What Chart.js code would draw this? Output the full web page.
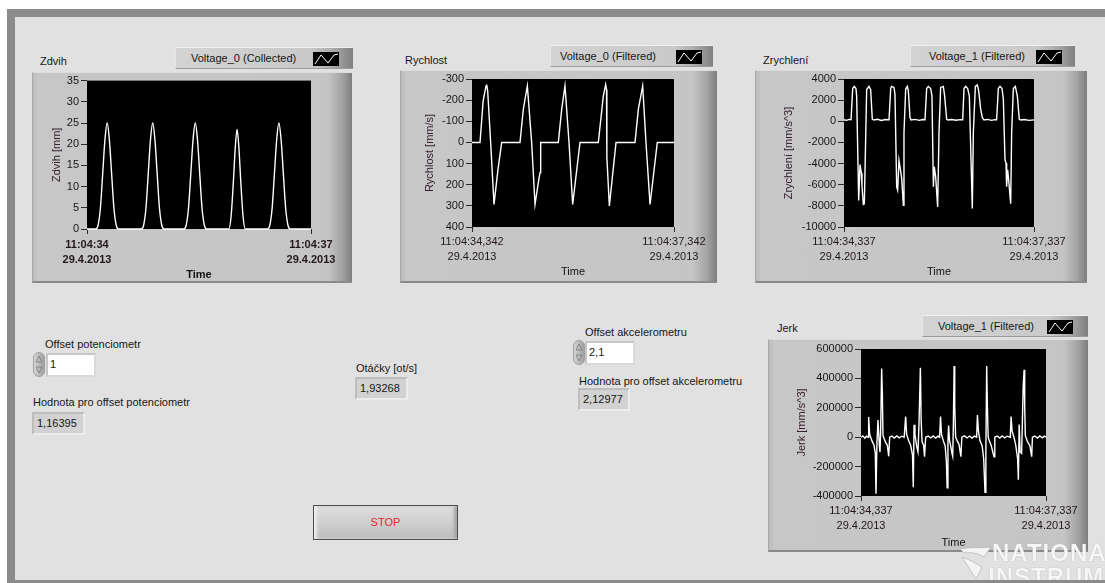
<!DOCTYPE html>
<html lang="cs">
<head>
<meta charset="utf-8">
<title>Měření</title>
<script src="https://cdn.jsdelivr.net/npm/chart.js@4.4.1/dist/chart.umd.min.js"></script>
<style>
  body { margin: 0; width: 1105px; height: 583px; position: relative; overflow: hidden; background: #fff;
         font-family: "Liberation Sans", Arial, sans-serif; font-size: 11px; color: #161616; }
  .abs { position: absolute; }
  #border { left: 7px; top: 9px; width: 1098px; height: 574px; background: #8b8b8b; }
  #inside { left: 15px; top: 17px; width: 1090px; height: 563px; background: #e1e1e1; }
  .frame { box-sizing: border-box; border-top: 1px solid #dcdcdc; border-left: 1px solid #a9a9a9; border-bottom: 2px solid #8a8a8a;
           background: linear-gradient(to right, #bcbcbc 0, #c7c7c7 5px, #c5c5c5 calc(100% - 24px), #a3a3a3 calc(100% - 10px), #7d7d7d 100%); }
  .legend { box-sizing: border-box; height: 22px; border-top: 1px solid #f0f0f0; border-left: 1px solid #e6e6e6; border-bottom: 1px solid #9c9c9c;
            background: linear-gradient(to right, #d3d3d3 0, #c9c9c9 76%, #a9a9a9 89%, #7f7f7f 100%); line-height: 20px; white-space: nowrap; }
  .legend svg { position: absolute; top: 4px; }
  .caption { white-space: nowrap; line-height: 13px; }
  .edit { box-sizing: border-box; height: 24px; background: #fff; border: 2px solid #d9d9d9; border-top-color: #c6c6c6; border-left-color: #c6c6c6;
          line-height: 19px; padding-left: 2px; }
  .ind { box-sizing: border-box; height: 23px; background: #d2d2d2; border: 2px solid #ececec; border-top-color: #bdbdbd; border-left-color: #bdbdbd;
         line-height: 19px; padding-left: 3px; }
  .spin { width: 12px; height: 25px; }
  #stop { left: 313px; top: 505px; width: 145px; height: 35px; box-sizing: border-box; border: 1px solid #4e4e4e;
          background: linear-gradient(to bottom, #dedede 0, #cfcfcf 50%, #bdbdbd 100%);
          box-shadow: inset 3px 0 3px #ececec, inset -3px 0 3px #a5a5a5; color: #e3262e; text-align: center; line-height: 33px; }
  #ni { left: 958px; top: 537px; width: 147px; height: 43px; overflow: hidden; }
  #ni div { position: absolute; font-weight: bold; font-size: 24px; line-height: 24px; color: #f6f6f6; text-shadow: 0 0 1px #9a9a9a; letter-spacing: 1px; }
</style>
</head>
<body>
<div class="abs" id="border"></div>
<div class="abs" id="inside"></div>

<!-- graph frames -->
<div class="abs frame" style="left:32px; top:72px; width:320px; height:211px;"></div>
<div class="abs frame" style="left:400px; top:70px; width:317px; height:213px;"></div>
<div class="abs frame" style="left:755px; top:70px; width:332px; height:213px;"></div>
<div class="abs frame" style="left:768px; top:339px; width:320px; height:213px;"></div>

<canvas id="zdvih-chart" class="abs" width="320" height="211" style="left:32px; top:72px;"></canvas>
<canvas id="rychlost-chart" class="abs" width="317" height="213" style="left:400px; top:70px;"></canvas>
<canvas id="zrychleni-chart" class="abs" width="332" height="213" style="left:755px; top:70px;"></canvas>
<canvas id="jerk-chart" class="abs" width="320" height="213" style="left:768px; top:339px;"></canvas>

<!-- captions and plot legends -->
<div class="abs caption" style="left:40px; top:55px;">Zdvih</div>
<div class="abs legend" style="left:175px; top:47px; width:178px; padding-left:15px;">Voltage_0 (Collected)
  <svg width="26" height="14" style="left:137px;"><rect width="26" height="14" fill="#000"/><polyline points="2,12 8,3 15,11 21,3 25,2" fill="none" stroke="#fff" stroke-width="1"/></svg>
</div>

<div class="abs caption" style="left:405px; top:54px;">Rychlost</div>
<div class="abs legend" style="left:550px; top:45px; width:163px; padding-left:9px;">Voltage_0 (Filtered)
  <svg width="26" height="14" style="left:125px;"><rect width="26" height="14" fill="#000"/><polyline points="2,12 8,3 15,11 21,3 25,2" fill="none" stroke="#fff" stroke-width="1"/></svg>
</div>

<div class="abs caption" style="left:763px; top:54px;">Zrychlení</div>
<div class="abs legend" style="left:910px; top:45px; width:165px; padding-left:18px;">Voltage_1 (Filtered)
  <svg width="26" height="14" style="left:125px;"><rect width="26" height="14" fill="#000"/><polyline points="2,12 8,3 15,11 21,3 25,2" fill="none" stroke="#fff" stroke-width="1"/></svg>
</div>

<div class="abs caption" style="left:777px; top:322px;">Jerk</div>
<div class="abs legend" style="left:922px; top:315px; width:166px; padding-left:15px;">Voltage_1 (Filtered)
  <svg width="26" height="14" style="left:124px;"><rect width="26" height="14" fill="#000"/><polyline points="2,12 8,3 15,11 21,3 25,2" fill="none" stroke="#fff" stroke-width="1"/></svg>
</div>

<!-- controls -->
<div class="abs caption" style="left:45px; top:338px;">Offset potenciometr</div>
<svg class="abs spin" style="left:33px; top:352px;" viewBox="0 0 12 25">
  <defs><linearGradient id="sg" x1="0" x2="1"><stop offset="0" stop-color="#d8d8d8"/><stop offset="1" stop-color="#9c9c9c"/></linearGradient></defs>
  <rect x="0.5" y="0.5" width="11" height="24" rx="5.5" fill="url(#sg)" stroke="#a0a0a0"/>
  <path d="M6 4 L9 10 L3 10 Z M6 21 L9 15 L3 15 Z" fill="none" stroke="#777" stroke-width="0.8"/>
</svg>
<div class="abs edit" style="left:46px; top:353px; width:50px;">1</div>

<div class="abs caption" style="left:33px; top:396px;">Hodnota pro offset potenciometr</div>
<div class="abs ind" style="left:32px; top:412px; width:53px;">1,16395</div>

<div class="abs caption" style="left:356px; top:362px;">Otáčky [ot/s]</div>
<div class="abs ind" style="left:355px; top:377px; width:53px;">1,93268</div>

<div class="abs caption" style="left:585px; top:326px;">Offset akcelerometru</div>
<svg class="abs spin" style="left:573px; top:340px;" viewBox="0 0 12 25">
  <rect x="0.5" y="0.5" width="11" height="24" rx="5.5" fill="url(#sg)" stroke="#a0a0a0"/>
  <path d="M6 4 L9 10 L3 10 Z M6 21 L9 15 L3 15 Z" fill="none" stroke="#777" stroke-width="0.8"/>
</svg>
<div class="abs edit" style="left:585px; top:341px; width:50px;">2,1</div>

<div class="abs caption" style="left:579px; top:375px;">Hodnota pro offset akcelerometru</div>
<div class="abs ind" style="left:578px; top:388px; width:52px;">2,12977</div>

<div class="abs" id="stop">STOP</div>

<div class="abs" id="ni">
  <svg class="abs" style="left:0; top:6px;" width="36" height="37">
    <path d="M2 6 C12 4 22 5 33 4 L26 14 C20 10 12 9 6 10 Z M4 14 L18 36 L24 24 C18 20 10 16 4 14 Z" fill="#f4f4f4" stroke="#a8a8a8" stroke-width="0.6"/>
  </svg>
  <div style="left:34px; top:4px;">NATIONAL</div>
  <div style="left:30px; top:28px;">INSTRUMENTS</div>
</div>
<div class="abs" style="left:7px; top:580px; width:1098px; height:3px; background:#8b8b8b;"></div>

<script>
// Zdvih [mm], time in seconds from 11:04:34
const zdvihTime = [0, 0.12, 0.15, 0.18, 0.21, 0.24, 0.27, 0.30, 0.33, 0.36, 0.39, 0.42,
    0.73, 0.76, 0.79, 0.82, 0.85, 0.88, 0.91, 0.94, 0.97, 1.00, 1.03,
    1.30, 1.33, 1.36, 1.39, 1.42, 1.45, 1.48, 1.51, 1.54, 1.57, 1.60,
    1.90, 1.93, 1.96, 1.985, 2.01, 2.035, 2.06, 2.09, 2.12,
    2.42, 2.45, 2.48, 2.51, 2.54, 2.57, 2.60, 2.63, 2.66, 2.69, 2.72, 3.0];
const zdvihValues = [0, 0, 1, 5, 13, 21, 25, 21, 13, 5, 1, 0,
    0, 1, 5, 13, 21, 25, 21, 13, 5, 1, 0,
    0, 1, 5, 13, 21, 25, 21, 13, 5, 1, 0,
    0, 3, 11, 19, 23.5, 19, 11, 3, 0,
    0, 1, 5, 13, 21, 25, 21, 13, 5, 1, 0, 0];

// Rychlost [mm/s]
const rychlostTime = [0, 0.119, 0.165, 0.208, 0.218, 0.233, 0.277, 0.327, 0.385, 0.441,
    0.713, 0.762, 0.822, 0.886, 0.936, 0.985, 1.01, 1.02,
    1.282, 1.332, 1.381, 1.441, 1.495, 1.604,
    1.876, 1.950, 1.985, 1.998, 2.003, 2.040, 2.139,
    2.421, 2.470, 2.535, 2.584, 2.644, 2.752, 3.0];
const rychlostValues = [0, 0, -195, -267, -274, -243, 0, 293, 130, 0,
    0, -156, -267, 0, 293, 190, 143, 0,
    0, -156, -267, 0, 293, 0,
    0, -219, -274, -250, 70, 300, 0,
    0, -156, -267, 0, 293, 0, 0];

// Zrychlení [mm/s^2]
const zrychleniTime = [0, 0.04, 0.08, 0.111, 0.137, 0.163, 0.189, 0.2, 0.232, 0.253, 0.274, 0.284, 0.305, 0.321, 0.358, 0.395, 0.421, 0.447, 0.47, 0.53, 0.59, 0.65,
    0.711, 0.737, 0.753, 0.789, 0.805, 0.832, 0.847, 0.868, 0.884, 0.911, 0.937, 0.947, 0.974, 1.0, 1.016, 1.042, 1.058, 1.12, 1.19, 1.24,
    1.279, 1.305, 1.332, 1.368, 1.389, 1.411, 1.426, 1.447, 1.479, 1.5, 1.526, 1.568, 1.589, 1.621, 1.642, 1.7, 1.77, 1.83,
    1.874, 1.895, 1.921, 1.953, 1.979, 2.026, 2.042, 2.074, 2.105, 2.126, 2.158, 2.184, 2.211, 2.27, 2.33, 2.38,
    2.41, 2.437, 2.463, 2.495, 2.516, 2.542, 2.558, 2.568, 2.584, 2.6, 2.632, 2.647, 2.674, 2.705, 2.737, 2.768, 2.789, 2.85, 2.92, 3.0];
const zrychleniValues = [150, 90, 180, 150, 3100, 3300, 3100, 2400, -7500, -4100, -4900, -6100, -7850, -7800, 3000, 3300, 3000, 200, 120, 190, 80, 170,
    150, 3100, 3300, 3200, 2570, -6200, -6500, -3700, -4300, -5400, -7950, -1100, 3050, 3300, 2900, 360, 120, 180, 90, 170,
    150, 3100, 3300, 3100, 2400, -6200, -4300, -5250, -8100, -1100, 3200, 3300, 2400, 180, 120, 170, 100, 160,
    150, 3100, 3300, 3100, 2400, -8250, -1100, 3300, 3430, 2900, 1150, 340, 120, 180, 90, 160,
    150, 3100, 3300, 3100, 2100, -3650, -3950, -6200, -4600, -5550, -7800, -1100, 3100, 3300, 2400, 180, 120, 170, 90, 130];

// Jerk [mm/s^3]
const jerkTime = [0, 0.03, 0.06, 0.09, 0.115, 0.124, 0.14, 0.178, 0.211, 0.232, 0.243, 0.259, 0.276, 0.297, 0.308, 0.319, 0.335, 0.346, 0.357, 0.395, 0.427, 0.449, 0.465, 0.5, 0.54, 0.58, 0.62, 0.66, 0.7,
    0.724, 0.74, 0.773, 0.805, 0.835, 0.848, 0.86, 0.875, 0.9, 0.924, 0.94, 0.963, 0.975, 0.99, 1.016, 1.03, 1.049, 1.09, 1.13, 1.17, 1.21, 1.25, 1.275,
    1.29, 1.305, 1.335, 1.365, 1.385, 1.397, 1.41, 1.42, 1.435, 1.455, 1.475, 1.487, 1.497, 1.51, 1.52, 1.535, 1.56, 1.59, 1.62, 1.635, 1.68, 1.72, 1.76, 1.8, 1.84, 1.875,
    1.888, 1.905, 1.93, 1.965, 1.99, 2.011, 2.025, 2.038, 2.05, 2.062, 2.085, 2.11, 2.157, 2.17, 2.21, 2.25, 2.29, 2.33, 2.37, 2.42,
    2.434, 2.45, 2.48, 2.51, 2.54, 2.552, 2.565, 2.58, 2.605, 2.63, 2.645, 2.655, 2.665, 2.7, 2.74, 2.768, 2.78, 2.82, 2.86, 2.9, 2.94, 2.97, 3.0];
const jerkValues = [0, 9000, -6000, 7000, 0, 138000, 20000, -25000, -55000, -110000, -385000, -32000, 116000, -55000, -100000, 45000, 467000, 300000, 10000, -32000, -55000, -130000, 0, 8000, -6000, 9000, -4000, 7000, 0,
    140000, 20000, -25000, -55000, -120000, -340000, 85000, 20000, -55000, -100000, 85000, 472000, 120000, -32000, -55000, -133000, 0, 8000, -5000, 9000, -6000, 7000, 0,
    140000, 20000, -25000, -60000, -170000, -345000, -40000, 80000, -20000, -60000, -110000, -130000, 60000, 485000, 210000, 0, -25000, -50000, -133000, 0, 9000, -5000, 8000, -6000, 7000, 0,
    150000, 40000, -25000, -60000, -150000, -375000, -100000, 485000, 200000, 0, -30000, -55000, -133000, 0, 8000, -6000, 9000, -5000, 7000, 0,
    140000, 40000, 0, -55000, -150000, -290000, 86000, -100000, -110000, 340000, 458000, 200000, 10000, -30000, -60000, -133000, 0, 8000, -6000, 9000, -5000, 7000, 0];

// time axis labels (first and last tick)
const zdvihStartLabel = ['11:04:34', '29.4.2013'];
const zdvihEndLabel = ['11:04:37', '29.4.2013'];
const rychlostStartLabel = ['11:04:34,342', '29.4.2013'];
const rychlostEndLabel = ['11:04:37,342', '29.4.2013'];
const zrychleniStartLabel = ['11:04:34,337', '29.4.2013'];
const zrychleniEndLabel = ['11:04:37,337', '29.4.2013'];

const fontFamily = '"Liberation Sans", Arial, sans-serif';

// black plot area like the LabVIEW graph
const plotBackground = {
    id: 'plotBackground',
    beforeDraw(chart) {
        const { ctx, chartArea } = chart;
        ctx.save();
        ctx.fillStyle = '#000';
        ctx.fillRect(chartArea.left, chartArea.top, chartArea.width, chartArea.height);
        ctx.restore();
    }
};

function drawGraph(canvasId, times, values, labels, yAxis, box) {
    const points = times.map((t, i) => ({ x: t, y: values[i] }));

    new Chart(document.getElementById(canvasId), {
        type: 'line',
        data: {
            datasets: [
                {
                    data: points,
                    borderColor: '#ffffff',
                    borderWidth: 1.4,
                    pointRadius: 0,
                    tension: yAxis.smooth ? 0.4 : 0,
                    cubicInterpolationMode: yAxis.smooth ? 'monotone' : 'default',
                    clip: 2
                }
            ]
        },
        options: {
            responsive: false,
            animation: false,
            devicePixelRatio: 1,
            layout: { padding: { top: box.top, right: box.right, left: 0, bottom: 0 } },
            plugins: { legend: { display: false }, tooltip: { enabled: false } },
            scales: {
                x: {
                    type: 'linear',
                    min: 0,
                    max: 3,
                    afterBuildTicks: scale => { scale.ticks = [{ value: 0 }, { value: 3 }]; },
                    afterFit: scale => { scale.height = box.bottom; },
                    ticks: {
                        autoSkip: false,
                        maxRotation: 0,
                        padding: box.tickPad,
                        color: '#22161d',
                        font: { family: fontFamily, size: 11, lineHeight: 1.35, weight: box.bold ? 'bold' : 'normal' },
                        callback: value => value === 0 ? labels[0] : labels[1]
                    },
                    grid: { drawOnChartArea: false, tickLength: 5, color: '#2a2a2a' },
                    border: { display: false },
                    title: {
                        display: true,
                        text: 'Time',
                        color: '#111',
                        font: { family: fontFamily, size: 11, weight: box.bold ? 'bold' : 'normal' },
                        padding: { top: 0, bottom: box.timePad }
                    }
                },
                y: {
                    min: yAxis.min,
                    max: yAxis.max,
                    reverse: !!yAxis.reverse,
                    afterFit: scale => { scale.width = box.left; },
                    ticks: {
                        stepSize: yAxis.step,
                        padding: 2,
                        color: '#161616',
                        font: { family: fontFamily, size: 11 },
                        callback: value => String(value)
                    },
                    grid: { drawOnChartArea: false, tickLength: 6, color: '#2a2a2a' },
                    border: { display: false },
                    title: {
                        display: true,
                        text: yAxis.title,
                        color: '#35202f',
                        font: { family: fontFamily, size: 11 },
                        padding: { top: box.titlePad, bottom: 0 }
                    }
                }
            }
        },
        plugins: [plotBackground]
    });
}

document.addEventListener('DOMContentLoaded', function() {
    drawGraph('zdvih-chart', zdvihTime, zdvihValues, [zdvihStartLabel, zdvihEndLabel],
        { min: 0, max: 35, step: 5, title: 'Zdvih [mm]', smooth: true },
        { left: 55, right: 41, top: 8, bottom: 54, tickPad: 4, timePad: 1, titlePad: 18, bold: true });

    drawGraph('rychlost-chart', rychlostTime, rychlostValues, [rychlostStartLabel, rychlostEndLabel],
        { min: -300, max: 400, step: 100, title: 'Rychlost [mm/s]', reverse: true },
        { left: 72, right: 43, top: 9, bottom: 56, tickPad: 3, timePad: 4, titlePad: 23 });

    drawGraph('zrychleni-chart', zrychleniTime, zrychleniValues, [zrychleniStartLabel, zrychleniEndLabel],
        { min: -10000, max: 4000, step: 2000, title: 'Zrychlení [mm/s^3]' },
        { left: 89, right: 53, top: 9, bottom: 56, tickPad: 3, timePad: 4, titlePad: 27 });

    drawGraph('jerk-chart', jerkTime, jerkValues, [zrychleniStartLabel, zrychleniEndLabel],
        { min: -400000, max: 600000, step: 200000, title: 'Jerk [mm/s^3]' },
        { left: 93, right: 42, top: 10, bottom: 56, tickPad: 3, timePad: 2, titlePad: 27 });
});
</script>
</body>
</html>
